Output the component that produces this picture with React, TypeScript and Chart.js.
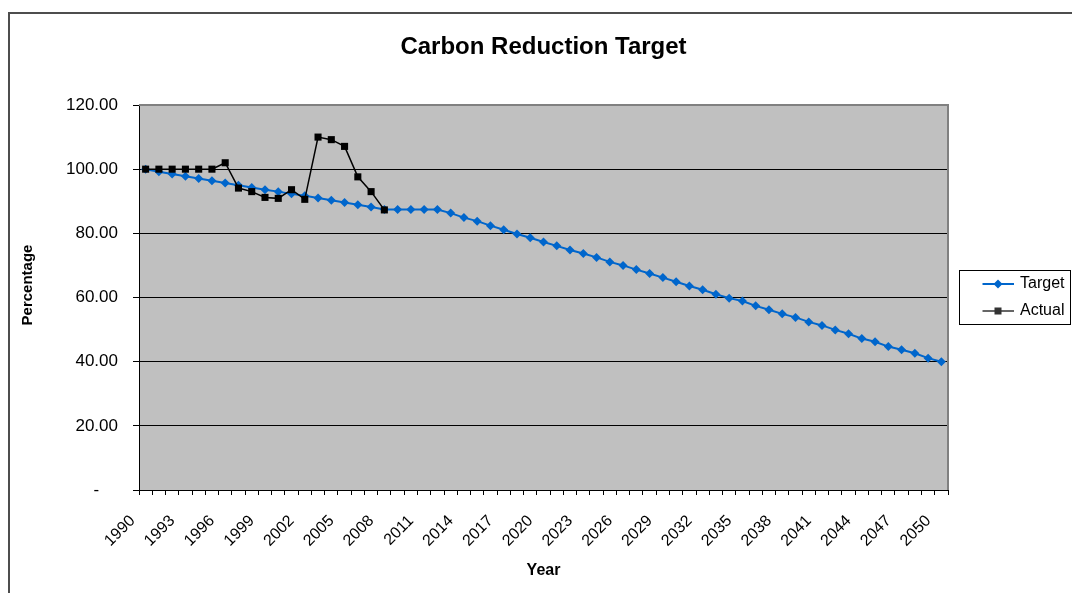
import React, { useEffect, useRef } from 'react';
import { Chart, registerables } from 'chart.js';

Chart.register(...registerables);

const TITLE = 'Carbon Reduction Target';
const X_TITLE = 'Year';
const Y_TITLE = 'Percentage';
const SERIES_NAMES = ['Target', 'Actual'];

const YEARS = [
  '1990', '1991', '1992', '1993', '1994', '1995', '1996', '1997', '1998', '1999',
  '2000', '2001', '2002', '2003', '2004', '2005', '2006', '2007', '2008', '2009',
  '2010', '2011', '2012', '2013', '2014', '2015', '2016', '2017', '2018', '2019',
  '2020', '2021', '2022', '2023', '2024', '2025', '2026', '2027', '2028', '2029',
  '2030', '2031', '2032', '2033', '2034', '2035', '2036', '2037', '2038', '2039',
  '2040', '2041', '2042', '2043', '2044', '2045', '2046', '2047', '2048', '2049',
  '2050',
];

const TARGET = [
  100.0, 99.2, 98.5, 97.8, 97.1, 96.4, 95.7, 95.0, 94.3, 93.6,
  93.0, 92.3, 91.7, 91.0, 90.3, 89.6, 88.9, 88.2, 87.4, 87.4,
  87.4, 87.4, 87.4, 86.3, 84.9, 83.8, 82.4, 81.1, 79.8, 78.6,
  77.3, 76.1, 74.8, 73.7, 72.5, 71.1, 70.0, 68.7, 67.5, 66.2,
  64.9, 63.6, 62.4, 61.0, 59.8, 58.9, 57.4, 56.2, 54.9, 53.8,
  52.4, 51.3, 49.9, 48.7, 47.2, 46.2, 44.7, 43.7, 42.6, 41.1,
  40.0,
];

const ACTUAL = [
  100.0, 100.0, 100.0, 100.0, 100.0, 100.0, 102.0, 94.1, 93.0, 91.2,
  90.9, 93.6, 90.6, 110.0, 109.2, 107.1, 97.6, 93.0, 87.3,
];

const Y_MIN = 0;
const Y_MAX = 120;
const Y_STEP = 20;
const X_LABEL_EVERY = 3;

const FONT = "'Liberation Sans', Arial, sans-serif";
const TARGET_COLOR = '#0066cc';
const ACTUAL_COLOR = '#000000';

function makeIcon(color: string, lw: number, marker: 'diamond' | 'square') {
  const c = document.createElement('canvas');
  c.width = 57;
  c.height = 12;
  const g = c.getContext('2d')!;
  g.strokeStyle = color;
  g.lineWidth = lw;
  g.beginPath();
  g.moveTo(25.5, 6);
  g.lineTo(57, 6);
  g.stroke();
  g.fillStyle = color;
  if (marker === 'diamond') {
    g.beginPath();
    g.moveTo(41, 1.5);
    g.lineTo(45.5, 6);
    g.lineTo(41, 10.5);
    g.lineTo(36.5, 6);
    g.closePath();
    g.fill();
  } else {
    g.fillRect(37.5, 2.5, 7, 7);
  }
  return c;
}

export default function App() {
  const ref = useRef<HTMLCanvasElement>(null);

  useEffect(() => {
    const canvas = ref.current!;
    const icons = [
      makeIcon(TARGET_COLOR, 2, 'diamond'),
      makeIcon('#333333', 1.5, 'square'),
    ];

    const framePlugin = {
      id: 'frame',
      beforeDraw(chart: any) {
        const { ctx, chartArea: a } = chart;
        ctx.save();
        ctx.fillStyle = '#ffffff';
        ctx.fillRect(0, 0, chart.width, chart.height);
        ctx.fillStyle = '#c0c0c0';
        ctx.fillRect(a.left, a.top, a.right - a.left, a.bottom - a.top);
        ctx.strokeStyle = '#4d4d4d';
        ctx.lineWidth = 2;
        ctx.beginPath();
        ctx.moveTo(9, chart.height);
        ctx.lineTo(9, 13);
        ctx.lineTo(chart.width, 13);
        ctx.stroke();
        ctx.restore();
      },
      afterDatasetsDraw(chart: any) {
        const { ctx, chartArea: a } = chart;
        ctx.save();
        ctx.strokeStyle = '#808080';
        ctx.lineWidth = 2;
        ctx.beginPath();
        ctx.moveTo(a.left, a.top);
        ctx.lineTo(a.right, a.top);
        ctx.lineTo(a.right, a.bottom);
        ctx.stroke();
        ctx.restore();
      },
      afterDraw(chart: any) {
        const lg = chart.legend;
        if (!lg || !lg.legendHitBoxes || !lg.legendHitBoxes.length) return;
        const hb = lg.legendHitBoxes[0];
        const { ctx } = chart;
        ctx.save();
        ctx.strokeStyle = '#000000';
        ctx.lineWidth = 1;
        ctx.strokeRect(Math.round(hb.left) + 0.5, Math.round(hb.top - 6) + 0.5, 111, 54);
        ctx.restore();
      },
    };

    const chart = new Chart(canvas, {
      type: 'line',
      data: {
        labels: YEARS,
        datasets: [
          {
            label: SERIES_NAMES[0],
            data: TARGET,
            borderColor: TARGET_COLOR,
            backgroundColor: TARGET_COLOR,
            borderWidth: 2,
            pointStyle: 'rectRot',
            pointRadius: 4.5,
            pointBorderWidth: 0,
            tension: 0,
            order: 1,
          },
          {
            label: SERIES_NAMES[1],
            data: ACTUAL,
            borderColor: ACTUAL_COLOR,
            backgroundColor: ACTUAL_COLOR,
            borderWidth: 1.5,
            pointStyle: 'rect',
            pointRadius: 5,
            pointBorderWidth: 0,
            tension: 0,
            order: 0,
          },
        ],
      },
      options: {
        animation: false,
        responsive: false,
        devicePixelRatio: 1,
        layout: { padding: { left: 0, right: 0, top: 13, bottom: 0 } },
        plugins: {
          tooltip: { enabled: false },
          title: {
            display: true,
            text: TITLE,
            color: '#000',
            fullSize: false,
            font: { family: FONT, size: 24, weight: 'bold' },
            padding: { top: 19.6, bottom: 43.6 },
          },
          legend: {
            position: 'right',
            fullSize: false,
            maxWidth: 124,
            labels: {
              usePointStyle: true,
              pointStyleWidth: 53,
              padding: 11,
              color: '#000',
              font: { family: FONT, size: 16 },
              sort: (a: any, b: any) => a.datasetIndex - b.datasetIndex,
              generateLabels: (ch: any) => {
                const items = (Chart.defaults.plugins.legend.labels as any).generateLabels(ch);
                return items.map((it: any) => ({ ...it, pointStyle: icons[it.datasetIndex], rotation: 0 }));
              },
            },
          },
        },
        scales: {
          x: {
            offset: true,
            afterFit: (s: any) => { s.height = 103; },
            grid: {
              display: true,
              drawOnChartArea: false,
              drawTicks: true,
              tickLength: 5,
              tickColor: '#000',
              offset: true,
            },
            border: { display: true, color: '#000', width: 1 },
            ticks: {
              autoSkip: false,
              maxRotation: 45,
              minRotation: 45,
              padding: 16.6,
              labelOffset: -13,
              color: '#000',
              font: { family: FONT, size: 16 },
              callback: (_v: any, i: number) => (i % X_LABEL_EVERY === 0 ? YEARS[i] : ''),
            },
            title: {
              display: true,
              text: X_TITLE,
              color: '#000',
              font: { family: FONT, size: 16, weight: 'bold' },
              padding: { top: 0, bottom: 13 },
            },
          },
          y: {
            min: Y_MIN,
            max: Y_MAX,
            afterFit: (s: any) => { s.width = 139; },
            grid: {
              color: (c: any) => (c.tick && c.tick.value === Y_MAX ? 'rgba(0,0,0,0)' : '#000'),
              lineWidth: 1,
              tickLength: 6,
              tickColor: '#000',
            },
            border: { display: true, color: '#000', width: 1 },
            ticks: {
              stepSize: Y_STEP,
              padding: 15,
              color: '#000',
              font: { family: FONT, size: 17 },
              callback: (v: any) => (Number(v) === 0 ? '-    ' : Number(v).toFixed(2)),
            },
            title: {
              display: true,
              text: '      ' + Y_TITLE,
              color: '#000',
              font: { family: FONT, size: 15, weight: 'bold' },
              padding: { top: 18.5, bottom: 0 },
            },
          },
        },
      } as any,
      plugins: [framePlugin],
    });

    return () => chart.destroy();
  }, []);

  return (
    <div style={{ position: 'absolute', left: 0, top: 0, width: 1072, height: 593 }}>
      <canvas ref={ref} width={1072} height={593} style={{ display: 'block' }} />
    </div>
  );
}
